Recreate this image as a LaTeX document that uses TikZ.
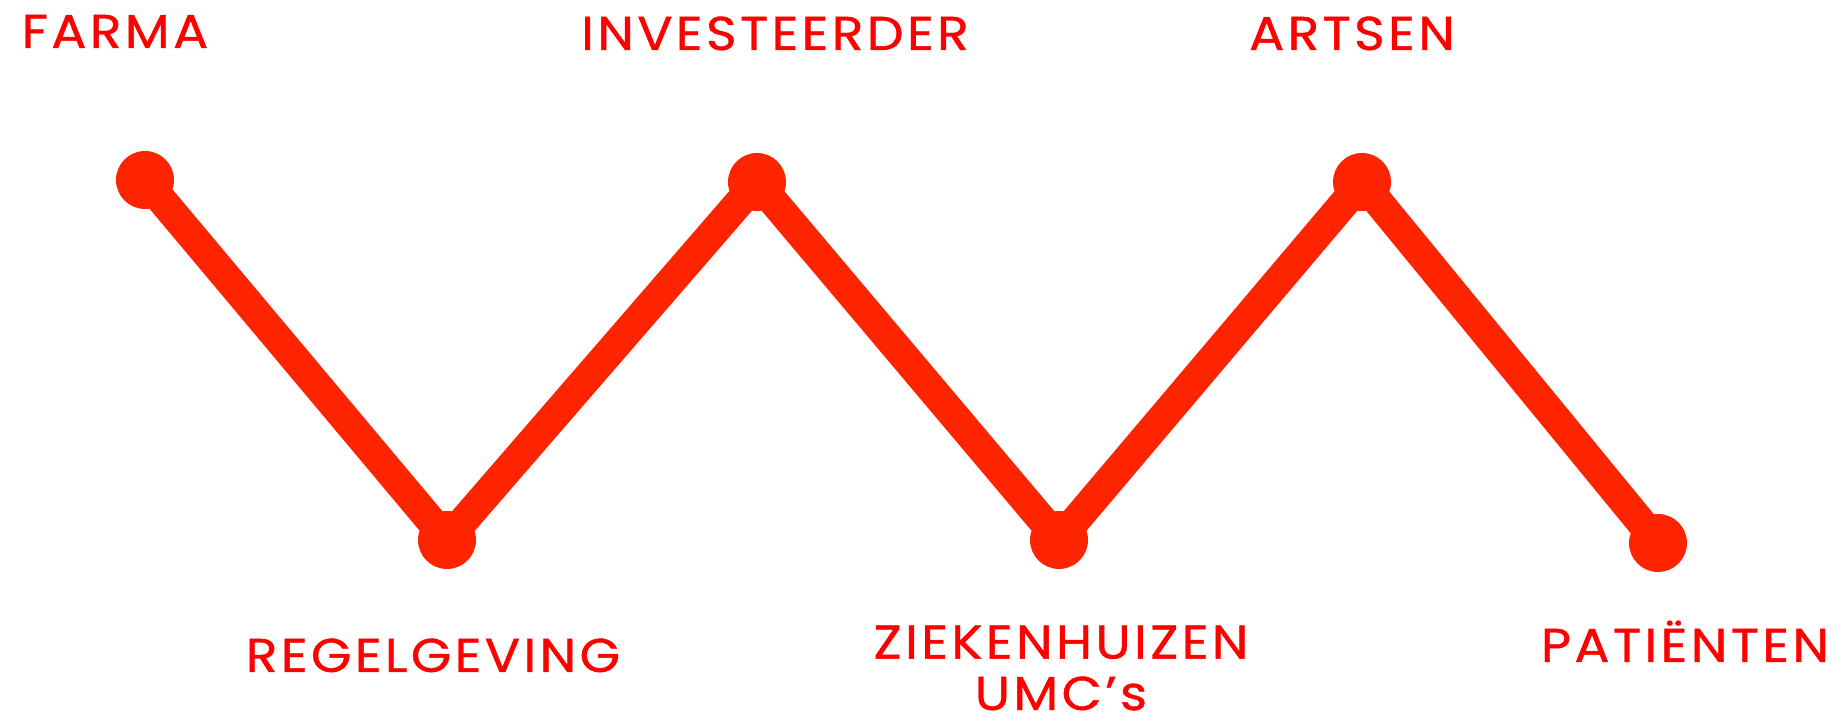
\documentclass[tikz,border=0pt]{standalone}
\usepackage{fontspec}
\setmainfont{Poppins}
\newfontfamily\partyfont{Poppins}[LetterSpace=7, FakeStretch=1.1, FakeBold=0.8]
\usepackage{tikz}

\definecolor{chainred}{RGB}{255,36,0}
\definecolor{labelred}{RGB}{255,0,0}

\begin{document}
\begin{tikzpicture}[line width = 0.3cm,
                    dot/.style = {circle, fill = chainred, inner sep = 0pt, minimum size = 0.58cm},
                    party/.style = {text = labelred, inner sep = 0pt, anchor = base, align = center,
                                    font = \partyfont\fontsize{13.5}{14.6}\selectfont}]

\useasboundingbox (0,0) rectangle (18.45,7.22);

% top row
\node [party] (farma) at (1.15,6.74) {FARMA};
\node [party] (inv) at (7.75,6.72) {INVESTEERDER};
\node [party] (arts) at (13.52,6.72) {ARTSEN};

% bottom row
\node [party] (regel) at (4.33,0.50) {REGELGEVING};
\node [party] (zieken) at (10.61,0.12) {ZIEKENHUIZEN\\UMC’s};
\node [party] (pat) at (16.85,0.60) {PATIËNTEN};

\node [dot] (P1) at (1.45,5.42) {};
\node [dot] (P2) at (4.47,1.82) {};
\node [dot] (P3) at (7.57,5.40) {};
\node [dot] (P4) at (10.59,1.82) {};
\node [dot] (P5) at (13.62,5.40) {};
\node [dot] (P6) at (16.58,1.79) {};

\draw[chainred] (P1.center)--(P2.center);
\draw[chainred] (P2.center)--(P3.center);
\draw[chainred] (P3.center)--(P4.center);
\draw[chainred] (P4.center)--(P5.center);
\draw[chainred] (P5.center)--(P6.center);
\end{tikzpicture}
\end{document}
